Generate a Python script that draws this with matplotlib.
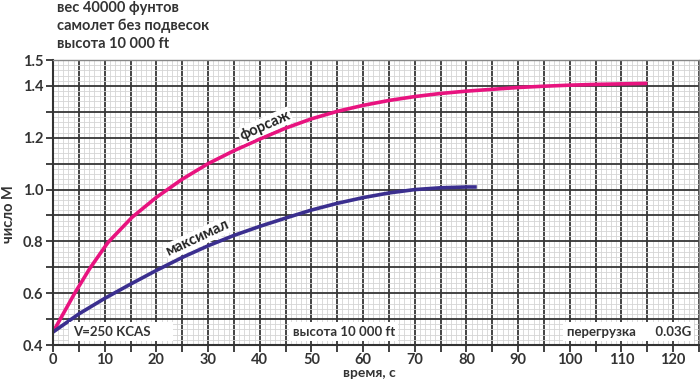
import numpy as np
import matplotlib.pyplot as plt
from matplotlib.ticker import MultipleLocator, FixedLocator

plt.rcParams['font.family'] = ['Lato', 'DejaVu Sans']

# время, с  /  число M  (форсаж)
t_forsazh = [0, 4.2, 7.1, 10.6, 15.3, 20, 25, 30, 35, 40, 45, 50, 55, 60,
             65, 70, 75, 80, 85, 90, 95, 100, 105, 110, 115]
m_forsazh = [0.45, 0.60, 0.695, 0.795, 0.893, 0.97, 1.04, 1.10, 1.15, 1.195,
             1.237, 1.273, 1.302, 1.325, 1.344, 1.359, 1.371, 1.38, 1.387,
             1.394, 1.399, 1.403, 1.406, 1.408, 1.41]

# максимал
t_maks = [0, 5, 10, 15, 20, 25, 30, 35, 40, 45, 50, 55, 60, 65, 70, 75, 80, 82]
m_maks = [0.45, 0.52, 0.58, 0.635, 0.688, 0.738, 0.783, 0.823, 0.858, 0.89,
          0.921, 0.947, 0.969, 0.987, 1.0, 1.007, 1.01, 1.01]

x_ticks = list(range(0, 126, 5))
x_labels = [str(v) if v % 10 == 0 and v <= 120 else '' for v in x_ticks]
y_ticks = [0.4, 0.5, 0.6, 0.7, 0.8, 0.9, 1.0, 1.1, 1.2, 1.3, 1.4, 1.5]
y_labels = ['0.4', '', '0.6', '', '0.8', '', '1.0', '', '1.2', '', '1.4', '1.5']

fig = plt.figure(figsize=(7, 3.8), dpi=100)
ax = fig.add_axes([0.0757, 0.092, 0.9229, 0.750])

ax.set_xlim(0, 125)
ax.set_ylim(0.4, 1.5)

ax.xaxis.set_major_locator(FixedLocator(x_ticks))
ax.set_xticklabels(x_labels)
ax.yaxis.set_major_locator(FixedLocator(y_ticks))
ax.set_yticklabels(y_labels)
ax.xaxis.set_minor_locator(MultipleLocator(1))
ax.yaxis.set_minor_locator(MultipleLocator(0.02))

ax.grid(which='minor', color='#d4d4d4', linewidth=0.6)
ax.grid(which='major', color='#363636', linewidth=1.3)
ax.set_axisbelow(True)
ax.tick_params(which='major', direction='out', length=5, width=1.3, pad=2,
               color='#333333', labelsize=10.5, labelcolor='#333333')
ax.tick_params(axis='x', which='major', pad=0.5)
ax.tick_params(which='minor', length=0)
for lbl in ax.get_xticklabels() + ax.get_yticklabels():
    lbl.set_fontweight('bold')

for side in ['left', 'bottom']:
    ax.spines[side].set_color('#333333')
    ax.spines[side].set_linewidth(1.5)
for side in ['top', 'right']:
    ax.spines[side].set_color('#888888')
    ax.spines[side].set_linewidth(1.0)

ax.plot(t_forsazh, m_forsazh, color='#E8137F', linewidth=2.6,
        solid_capstyle='butt', solid_joinstyle='round')
ax.plot(t_maks, m_maks, color='#3B2F8F', linewidth=2.6,
        solid_capstyle='butt', solid_joinstyle='round')

box = dict(facecolor='white', edgecolor='none', pad=1.0)
ax.text(41, 1.247, 'форсаж', rotation=24, ha='center', va='center',
        fontsize=10.5, fontweight='bold', color='#222222', bbox=box)
ax.text(28, 0.812, 'максимал', rotation=25, ha='center', va='center',
        fontsize=10.5, fontweight='bold', color='#222222', bbox=box)

box2 = dict(facecolor='white', edgecolor='none', pad=2.5)
ax.text(3.8, 0.452, 'V=250 KCAS      ', ha='left', va='center', fontsize=9.5,
        fontweight='bold', color='#333333', bbox=box2)
ax.text(46.4, 0.452, 'высота 10 000 ft', ha='left', va='center', fontsize=9.5,
        fontweight='bold', color='#333333', bbox=box2)
ax.text(99.4, 0.452, 'перегрузка      0.03G', ha='left', va='center', fontsize=9.5,
        fontweight='bold', color='#333333', bbox=box2)

ax.set_xlabel('время, с', fontsize=10, fontweight='bold', color='#333333', va='top')
ax.xaxis.set_label_coords(0.49, -0.076)
ax.set_ylabel('число М', fontsize=10.5, fontweight='bold', color='#333333')
ax.yaxis.set_label_coords(-0.057, 0.461)

title_lines = ['вес 40000 фунтов', 'самолет без подвесок', 'высота 10 000 ft']
for i, line in enumerate(title_lines):
    fig.text(0.081, 0.968 - i * 0.047, line, ha='left', va='baseline', fontsize=10.5,
             fontweight='bold', color='#333333')

fig.savefig('out.png', dpi=100)
